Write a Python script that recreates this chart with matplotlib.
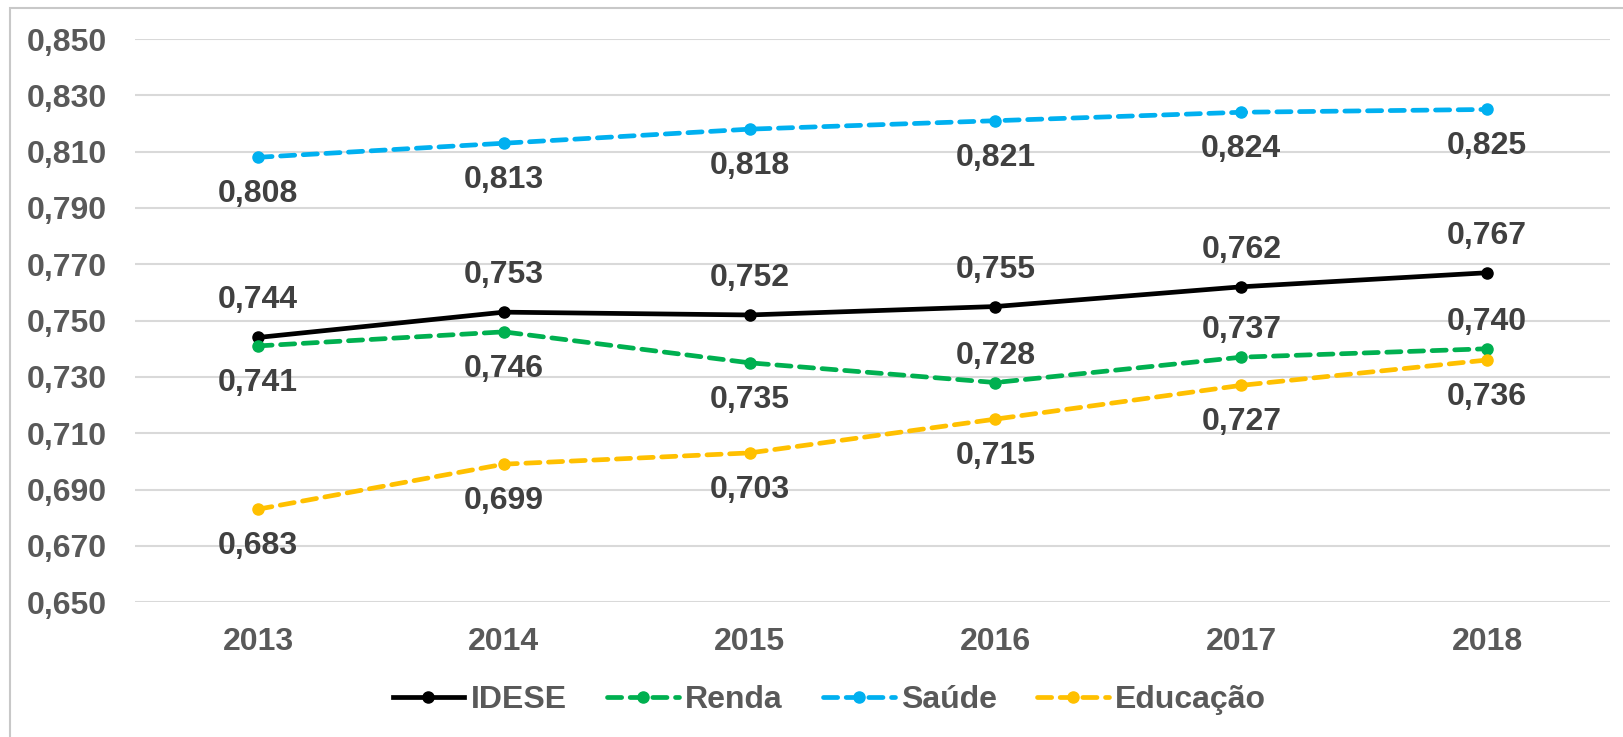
import matplotlib.pyplot as plt
from matplotlib.patches import Rectangle
from matplotlib.ticker import FuncFormatter

plt.rcParams['font.family'] = ['Liberation Sans', 'DejaVu Sans']
plt.rcParams['font.weight'] = 'bold'

# data
years = ['2013', '2014', '2015', '2016', '2017', '2018']
idese = [0.744, 0.753, 0.752, 0.755, 0.762, 0.767]
renda = [0.741, 0.746, 0.735, 0.728, 0.737, 0.740]
saude = [0.808, 0.813, 0.818, 0.821, 0.824, 0.825]
educacao = [0.683, 0.699, 0.703, 0.715, 0.727, 0.736]
y_ticks = [0.650, 0.670, 0.690, 0.710, 0.730, 0.750, 0.770, 0.790, 0.810, 0.830, 0.850]

fig = plt.figure(figsize=(16.23, 7.37), dpi=100)
ax = fig.add_axes([0.0832, 0.183, 0.9088, 0.764])

# outer chart border (right/bottom are cropped in the original)
fig.patches.append(Rectangle((10 / 1623, -0.1), 1.2, 1 - 8 / 737 + 0.1,
                             transform=fig.transFigure, fill=False,
                             edgecolor='#c8c8c8', linewidth=1.5))

x = list(range(len(years)))
lw = 3.4
ms = 8
fs = 23

series = [
    ('IDESE', idese, '#000000', '-'),
    ('Renda', renda, '#00b050', (0, (3, 1.8))),
    ('Saúde', saude, '#00b0f0', (0, (3, 1.8))),
    ('Educação', educacao, '#ffc000', (0, (3, 1.8))),
]

# label side per series: +1 above, -1 below
sides = {
    'IDESE': [1, 1, 1, 1, 1, 1],
    'Renda': [-1, -1, -1, 1, 1, 1],
    'Saúde': [-1, -1, -1, -1, -1, -1],
    'Educação': [-1, -1, -1, -1, -1, -1],
}

for name, vals, color, ls in series:
    ax.plot(x, vals, color=color, linestyle=ls, linewidth=lw, marker='o',
            markersize=ms, label=name, dash_capstyle='round', zorder=3)
    for i, v in enumerate(vals):
        s = sides[name][i]
        if name == 'Renda' and s > 0:
            dy = 27
        else:
            dy = 37 * s
        ax.annotate(f'{v:.3f}'.replace('.', ','), (i, v),
                    xytext=(0, dy), textcoords='offset pixels',
                    ha='center', va='center', fontsize=fs,
                    fontweight='bold', color='#404040')

ax.set_xlim(-0.5, len(years) - 0.5)
ax.set_ylim(0.65, 0.85)
ax.set_yticks(y_ticks)
ax.yaxis.set_major_formatter(FuncFormatter(lambda v, p: f'{v:.3f}'.replace('.', ',')))
ax.set_xticks(x)
ax.set_xticklabels(years)
ax.tick_params(axis='both', length=0, labelsize=fs, labelcolor='#595959')
ax.tick_params(axis='y', pad=20)
ax.tick_params(axis='x', pad=18)
for t in ax.get_xticklabels() + ax.get_yticklabels():
    t.set_fontweight('bold')

ax.grid(axis='y', color='#d9d9d9', linewidth=1.5)
ax.set_axisbelow(True)
for sp in ax.spines.values():
    sp.set_visible(False)

leg = fig.legend(loc='center', bbox_to_anchor=(0.511, 0.05), ncol=4,
                 frameon=False, fontsize=fs, handlelength=2.25,
                 handletextpad=0.2, columnspacing=1.25)
for t in leg.get_texts():
    t.set_color('#595959')
    t.set_fontweight('bold')

fig.savefig('out.png', dpi=100)
